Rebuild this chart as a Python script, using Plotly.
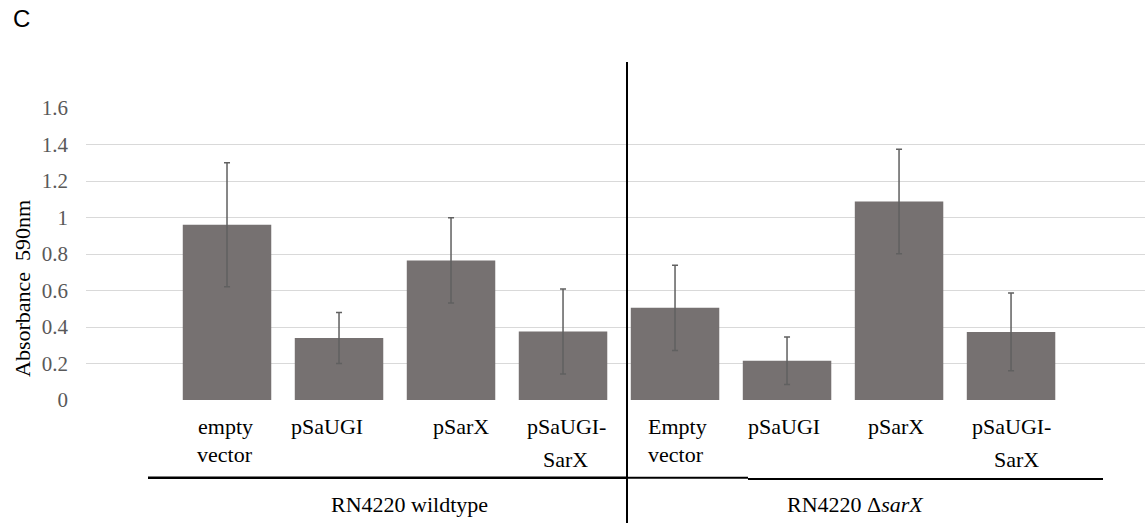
import plotly.graph_objects as go

# ---- data ----
categories = ["empty vector", "pSaUGI", "pSarX", "pSaUGI-SarX",
              "Empty vector", "pSaUGI ", "pSarX ", "pSaUGI-SarX "]
values = [0.96, 0.34, 0.765, 0.375, 0.505, 0.215, 1.088, 0.373]
errors = [0.34, 0.14, 0.233, 0.233, 0.234, 0.13, 0.286, 0.213]
label_line1 = ["empty", "pSaUGI", "pSarX", "pSaUGI-", "Empty", "pSaUGI", "pSarX", "pSaUGI-"]
label_line2 = ["vector", "", "", "SarX", "vector", "", "", "SarX"]
group_labels = ["RN4220 wildtype", "RN4220 Δ<i>sarX</i>"]
y_ticks = [0, 0.2, 0.4, 0.6, 0.8, 1, 1.2, 1.4, 1.6]
y_ticktext = ["0", "0.2", "0.4", "0.6", "0.8", "1", "1.2", "1.4", "1.6"]

# ---- layout geometry (pixels) ----
W, H = 1145, 523
L, R, T, B = 86, 0, 108, 123
PW, PH = W - L - R, H - T - B
xs = list(range(len(categories)))


def px(xp):
    return (xp - L) / PW


def py(yp):
    return (H - B - yp) / PH


fig = go.Figure()
fig.add_trace(go.Bar(
    x=xs, y=values, width=0.79,
    marker=dict(color="#767171", line=dict(width=0)),
    error_y=dict(type="data", array=errors, visible=True,
                 color="#606060", thickness=1.5, width=3),
    hoverinfo="skip",
))

serif = "Liberation Serif, Times New Roman, serif"
LBL = 22

annotations = []
l1_shift = [-2, -12, 10, 3, 2, -3, -3, 0]
l2_shift = [-2, 0, 0, 2, 1, 0, 0, 5]
l2_y = [454, 0, 0, 459, 454, 0, 0, 459]
for i in xs:
    annotations.append(dict(x=xs[i], y=py(426), xref="x", yref="paper",
                            text=label_line1[i], showarrow=False, xshift=l1_shift[i],
                            xanchor="center", yanchor="middle",
                            font=dict(family=serif, size=LBL, color="#000000")))
    if label_line2[i]:
        annotations.append(dict(x=xs[i], y=py(l2_y[i]), xref="x", yref="paper",
                                text=label_line2[i], showarrow=False, xshift=l2_shift[i],
                                xanchor="center", yanchor="middle",
                                font=dict(family=serif, size=LBL, color="#000000")))

group_x = [409, 855]
for gx, gl in zip(group_x, group_labels):
    annotations.append(dict(x=px(gx), y=py(504), xref="paper", yref="paper",
                            text=gl, showarrow=False, xanchor="center", yanchor="middle",
                            font=dict(family=serif, size=LBL, color="#000000")))

annotations.append(dict(x=px(22), y=py(289), xref="paper", yref="paper",
                        text="Absorbance\u00a0\u00a0590nm", textangle=-90, showarrow=False,
                        xanchor="center", yanchor="middle",
                        font=dict(family=serif, size=22, color="#000000")))
annotations.append(dict(x=px(11), y=py(18), xref="paper", yref="paper",
                        text="C", showarrow=False, xanchor="left", yanchor="middle",
                        font=dict(family="Liberation Sans, Arial, sans-serif", size=24,
                                  color="#000000")))

shapes = [
    dict(type="line", xref="paper", yref="paper", x0=px(627), x1=px(627),
         y0=py(62), y1=py(523), line=dict(color="#000000", width=2)),
    dict(type="line", xref="paper", yref="paper", x0=px(148), x1=px(627),
         y0=py(477.7), y1=py(477.7), line=dict(color="#000000", width=2.5)),
    dict(type="line", xref="paper", yref="paper", x0=px(627), x1=px(748),
         y0=py(477.7), y1=py(477.7), line=dict(color="#000000", width=2)),
    dict(type="line", xref="paper", yref="paper", x0=px(748), x1=px(1103),
         y0=py(479), y1=py(479), line=dict(color="#000000", width=2)),
]

fig.update_layout(
    width=W, height=H,
    margin=dict(l=L, r=R, t=T, b=B, pad=0),
    paper_bgcolor="white", plot_bgcolor="white",
    showlegend=False,
    xaxis=dict(range=[-1.259, 8.196], showticklabels=False, showgrid=False,
               zeroline=False, showline=False, ticks="", fixedrange=True),
    yaxis=dict(range=[0, 1.6], tickvals=y_ticks, ticktext=y_ticktext,
               showgrid=True, gridcolor="#d9d9d9", gridwidth=1,
               zeroline=False, showline=False, ticks="",
               ticklabelstandoff=17,
               tickfont=dict(family=serif, size=21, color="#595959"),
               fixedrange=True),
    annotations=annotations,
    shapes=shapes,
)

fig.write_html(
    "out.html",
    config={"displayModeBar": False},
    post_script="document.body.style.margin='0';document.body.style.overflow='hidden';",
)
